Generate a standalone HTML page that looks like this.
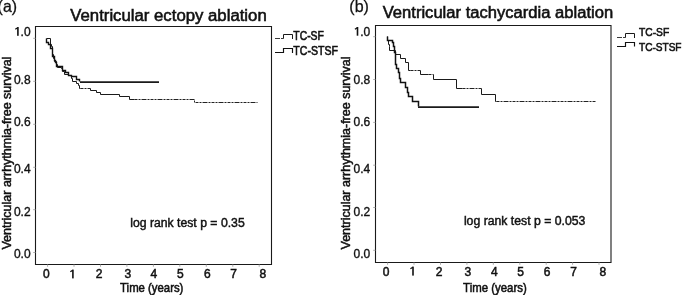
<!DOCTYPE html>
<html><head><meta charset="utf-8"><style>
html,body{margin:0;padding:0;background:#fff;width:682px;height:295px;overflow:hidden;}
svg{display:block;will-change:transform;}
</style></head><body>
<svg width="682" height="295" viewBox="0 0 682 295" font-family='"Liberation Sans", sans-serif' fill="#111">
<path d="M35.5,26.5 H271.5 V264.5 H35.5 Z" fill="none" stroke="#1a1a1a" stroke-width="1.1"/>
<line x1="33.2" y1="38.3" x2="35.6" y2="38.3" stroke="#999" stroke-width="0.8"/>
<line x1="33.2" y1="81.3" x2="35.6" y2="81.3" stroke="#999" stroke-width="0.8"/>
<line x1="33.2" y1="124.3" x2="35.6" y2="124.3" stroke="#999" stroke-width="0.8"/>
<line x1="33.2" y1="167.3" x2="35.6" y2="167.3" stroke="#999" stroke-width="0.8"/>
<line x1="33.2" y1="209.7" x2="35.6" y2="209.7" stroke="#999" stroke-width="0.8"/>
<line x1="33.2" y1="252.5" x2="35.6" y2="252.5" stroke="#999" stroke-width="0.8"/>
<line x1="47.6" y1="264.4" x2="47.6" y2="266.8" stroke="#999" stroke-width="0.8"/>
<line x1="74.0" y1="264.4" x2="74.0" y2="266.8" stroke="#999" stroke-width="0.8"/>
<line x1="100.5" y1="264.4" x2="100.5" y2="266.8" stroke="#999" stroke-width="0.8"/>
<line x1="126.9" y1="264.4" x2="126.9" y2="266.8" stroke="#999" stroke-width="0.8"/>
<line x1="153.4" y1="264.4" x2="153.4" y2="266.8" stroke="#999" stroke-width="0.8"/>
<line x1="179.8" y1="264.4" x2="179.8" y2="266.8" stroke="#999" stroke-width="0.8"/>
<line x1="206.3" y1="264.4" x2="206.3" y2="266.8" stroke="#999" stroke-width="0.8"/>
<line x1="232.8" y1="264.4" x2="232.8" y2="266.8" stroke="#999" stroke-width="0.8"/>
<line x1="259.2" y1="264.4" x2="259.2" y2="266.8" stroke="#999" stroke-width="0.8"/>
<rect x="17.10" y="27.00" width="1.6" height="8.80" fill="#111"/><line x1="17.70" y1="27.70" x2="15.30" y2="29.20" stroke="#111" stroke-width="1.3"/>
<text x="30.6" y="35.8" font-size="12" font-weight="400" text-anchor="end" stroke="#111" stroke-width="0.35" >.0</text>
<text x="30.6" y="83.5" font-size="12" font-weight="400" text-anchor="end" stroke="#111" stroke-width="0.35" >0.8</text>
<text x="30.6" y="126.0" font-size="12" font-weight="400" text-anchor="end" stroke="#111" stroke-width="0.35" >0.6</text>
<text x="30.6" y="173.2" font-size="12" font-weight="400" text-anchor="end" stroke="#111" stroke-width="0.35" >0.4</text>
<text x="30.6" y="215.5" font-size="12" font-weight="400" text-anchor="end" stroke="#111" stroke-width="0.35" >0.2</text>
<text x="30.6" y="257.5" font-size="12" font-weight="400" text-anchor="end" stroke="#111" stroke-width="0.35" >0.0</text>
<text x="46.40" y="278.2" font-size="12" font-weight="400" text-anchor="middle" stroke="#111" stroke-width="0.5" >0</text>
<rect x="72.10" y="269.60" width="1.6" height="8.80" fill="#111"/><line x1="72.70" y1="270.30" x2="70.30" y2="271.80" stroke="#111" stroke-width="1.3"/>
<text x="99.00" y="278.2" font-size="12" font-weight="400" text-anchor="middle" stroke="#111" stroke-width="0.5" >2</text>
<text x="127.80" y="278.2" font-size="12" font-weight="400" text-anchor="middle" stroke="#111" stroke-width="0.5" >3</text>
<text x="153.90" y="278.2" font-size="12" font-weight="400" text-anchor="middle" stroke="#111" stroke-width="0.5" >4</text>
<text x="180.40" y="278.2" font-size="12" font-weight="400" text-anchor="middle" stroke="#111" stroke-width="0.5" >5</text>
<text x="207.30" y="278.2" font-size="12" font-weight="400" text-anchor="middle" stroke="#111" stroke-width="0.5" >6</text>
<text x="233.60" y="278.2" font-size="12" font-weight="400" text-anchor="middle" stroke="#111" stroke-width="0.5" >7</text>
<text x="262.80" y="278.2" font-size="12" font-weight="400" text-anchor="middle" stroke="#111" stroke-width="0.5" >8</text>
<text x="-2.4" y="12.1" font-size="16.5" font-weight="400" text-anchor="start" textLength="19.4" lengthAdjust="spacingAndGlyphs" stroke="#111" stroke-width="0.3" >(a)</text>
<text x="70.3" y="21.1" font-size="16" font-weight="400" text-anchor="start" textLength="196.4" lengthAdjust="spacingAndGlyphs" stroke="#111" stroke-width="0.55" >Ventricular ectopy ablation</text>
<text x="120.1" y="292.4" font-size="12.3" font-weight="400" text-anchor="start" textLength="63.3" lengthAdjust="spacingAndGlyphs" stroke="#111" stroke-width="0.55" >Time (years)</text>
<text transform="translate(10.8,249.6) rotate(-90)" font-size="12.6" font-weight="400" stroke="#111" stroke-width="0.5" textLength="193" lengthAdjust="spacingAndGlyphs">Ventricular arrhythmia-free survival</text>
<text x="130.2" y="227.2" font-size="12.5" font-weight="400" text-anchor="start" textLength="114.5" lengthAdjust="spacingAndGlyphs" stroke="#111" stroke-width="0.45" >log rank test p = 0.35</text>
<text x="293.3" y="39.6" font-size="12" font-weight="400" text-anchor="start" textLength="30.6" lengthAdjust="spacingAndGlyphs" stroke="#111" stroke-width="0.6" >TC-SF</text>
<text x="293.3" y="55.4" font-size="12" font-weight="400" text-anchor="start" textLength="44.6" lengthAdjust="spacingAndGlyphs" stroke="#111" stroke-width="0.6" >TC-STSF</text>
<path d="M275,38.5 H283" fill="none" stroke="#3a3a3a" stroke-width="1" stroke-dasharray="5 1 2"/>
<path d="M283,38.5 H283.5 V34.5 H292.5 V39" fill="none" stroke="#1a1a1a" stroke-width="1"/>
<path d="M275,52.5 H283.5 V48.5 H292.5 V53" fill="none" stroke="#111" stroke-width="1.15"/>
<path d="M46.5,38.5 H50.5 V44.5 H51.5 V46.5 H52.5 V50.5 H52.5 V54.5 H53.5 V58.5 H54.5 V61.5 H56.5 V64.5 H57.5 V67.5 H61.5 V68.5 H62.5 V71.5 H64.5 V74.5 H68.5 V75.5 H71.5 V78.5 H72.5 V81.5 H76.5 V83.5 H78.5 V85.5 H79.5 V88.5 H80.5" fill="none" stroke="#1a1a1a" stroke-width="1.0"/>
<path d="M90.5,88.5 V90.5 H96.5 V92.5 H100.5 V94.5 H119.5 V96.5 H129.5 V99.5 H134.5" fill="none" stroke="#1a1a1a" stroke-width="1.0"/>
<path d="M80.5,88.5 H90.5 M134.5,99.5 H194.5 V102.5 H257.5" fill="none" stroke="#222" stroke-width="1.0" stroke-dasharray="3 1 2 1 5 1 2 1"/>
<path d="M46.5,38.5 V42.5 H48.5 V44.5 H50.5 V46.5 H50.5 V48.5 H52.5 V52.5 H52.5 V56.5 H54.5 V60.5 H55.5 V62.5 H56.5 V66.5 H62.5 V70.5 H65.5 V72.5 H68.5 V75.5 H71.5 V76.5 H76.5 V79.5 H79.5 V81.5" fill="none" stroke="#111" stroke-width="1.4"/>
<path d="M80.0,82.0 H159.0" fill="none" stroke="#1a1a1a" stroke-width="1.75"/>
<path d="M375.5,25.5 H611 V262.5 H375.5 Z" fill="none" stroke="#1a1a1a" stroke-width="1.1"/>
<line x1="373.2" y1="36.7" x2="375.5" y2="36.7" stroke="#999" stroke-width="0.8"/>
<line x1="373.2" y1="79.5" x2="375.5" y2="79.5" stroke="#999" stroke-width="0.8"/>
<line x1="373.2" y1="122.4" x2="375.5" y2="122.4" stroke="#999" stroke-width="0.8"/>
<line x1="373.2" y1="165.2" x2="375.5" y2="165.2" stroke="#999" stroke-width="0.8"/>
<line x1="373.2" y1="207.5" x2="375.5" y2="207.5" stroke="#999" stroke-width="0.8"/>
<line x1="373.2" y1="250.3" x2="375.5" y2="250.3" stroke="#999" stroke-width="0.8"/>
<line x1="387.6" y1="262.4" x2="387.6" y2="264.8" stroke="#999" stroke-width="0.8"/>
<line x1="414.0" y1="262.4" x2="414.0" y2="264.8" stroke="#999" stroke-width="0.8"/>
<line x1="440.5" y1="262.4" x2="440.5" y2="264.8" stroke="#999" stroke-width="0.8"/>
<line x1="466.9" y1="262.4" x2="466.9" y2="264.8" stroke="#999" stroke-width="0.8"/>
<line x1="493.3" y1="262.4" x2="493.3" y2="264.8" stroke="#999" stroke-width="0.8"/>
<line x1="519.8" y1="262.4" x2="519.8" y2="264.8" stroke="#999" stroke-width="0.8"/>
<line x1="546.2" y1="262.4" x2="546.2" y2="264.8" stroke="#999" stroke-width="0.8"/>
<line x1="572.6" y1="262.4" x2="572.6" y2="264.8" stroke="#999" stroke-width="0.8"/>
<line x1="599.0" y1="262.4" x2="599.0" y2="264.8" stroke="#999" stroke-width="0.8"/>
<rect x="356.70" y="27.00" width="1.6" height="8.70" fill="#111"/><line x1="357.30" y1="27.70" x2="354.90" y2="29.20" stroke="#111" stroke-width="1.3"/>
<text x="370.3" y="35.8" font-size="12" font-weight="400" text-anchor="end" stroke="#111" stroke-width="0.35" >.0</text>
<text x="370.3" y="83.5" font-size="12" font-weight="400" text-anchor="end" stroke="#111" stroke-width="0.35" >0.8</text>
<text x="370.3" y="126.0" font-size="12" font-weight="400" text-anchor="end" stroke="#111" stroke-width="0.35" >0.6</text>
<text x="370.3" y="173.2" font-size="12" font-weight="400" text-anchor="end" stroke="#111" stroke-width="0.35" >0.4</text>
<text x="370.3" y="215.5" font-size="12" font-weight="400" text-anchor="end" stroke="#111" stroke-width="0.35" >0.2</text>
<text x="370.3" y="257.5" font-size="12" font-weight="400" text-anchor="end" stroke="#111" stroke-width="0.35" >0.0</text>
<text x="386.20" y="275.5" font-size="12" font-weight="400" text-anchor="middle" stroke="#111" stroke-width="0.5" >0</text>
<rect x="412.20" y="266.60" width="1.6" height="9.00" fill="#111"/><line x1="412.80" y1="267.30" x2="410.40" y2="268.80" stroke="#111" stroke-width="1.3"/>
<text x="439.00" y="275.5" font-size="12" font-weight="400" text-anchor="middle" stroke="#111" stroke-width="0.5" >2</text>
<text x="467.90" y="275.5" font-size="12" font-weight="400" text-anchor="middle" stroke="#111" stroke-width="0.5" >3</text>
<text x="494.30" y="275.5" font-size="12" font-weight="400" text-anchor="middle" stroke="#111" stroke-width="0.5" >4</text>
<text x="520.50" y="275.5" font-size="12" font-weight="400" text-anchor="middle" stroke="#111" stroke-width="0.5" >5</text>
<text x="547.20" y="275.5" font-size="12" font-weight="400" text-anchor="middle" stroke="#111" stroke-width="0.5" >6</text>
<text x="573.70" y="275.5" font-size="12" font-weight="400" text-anchor="middle" stroke="#111" stroke-width="0.5" >7</text>
<text x="602.90" y="275.5" font-size="12" font-weight="400" text-anchor="middle" stroke="#111" stroke-width="0.5" >8</text>
<text x="349.3" y="12.1" font-size="17" font-weight="400" text-anchor="start" textLength="19.6" lengthAdjust="spacingAndGlyphs" stroke="#111" stroke-width="0.25" >(b)</text>
<text x="382.7" y="17.6" font-size="16" font-weight="400" text-anchor="start" textLength="230.5" lengthAdjust="spacingAndGlyphs" stroke="#111" stroke-width="0.55" >Ventricular tachycardia ablation</text>
<text x="463.1" y="292.4" font-size="12.3" font-weight="400" text-anchor="start" textLength="63.6" lengthAdjust="spacingAndGlyphs" stroke="#111" stroke-width="0.55" >Time (years)</text>
<text transform="translate(350,249.5) rotate(-90)" font-size="12.6" font-weight="400" stroke="#111" stroke-width="0.5" textLength="193" lengthAdjust="spacingAndGlyphs">Ventricular arrhythmia-free survival</text>
<text x="463.9" y="225.0" font-size="12.5" font-weight="400" text-anchor="start" textLength="121.5" lengthAdjust="spacingAndGlyphs" stroke="#111" stroke-width="0.45" >log rank test p = 0.053</text>
<text x="639" y="35.5" font-size="11.6" font-weight="400" text-anchor="start" textLength="30.2" lengthAdjust="spacingAndGlyphs" stroke="#111" stroke-width="0.6" >TC-SF</text>
<text x="639" y="51.2" font-size="11.6" font-weight="400" text-anchor="start" textLength="42.5" lengthAdjust="spacingAndGlyphs" stroke="#111" stroke-width="0.6" >TC-STSF</text>
<path d="M617,37.5 H625" fill="none" stroke="#3a3a3a" stroke-width="1" stroke-dasharray="5 1 2"/>
<path d="M625,37.5 H625.5 V33.5 H634.5 V38" fill="none" stroke="#1a1a1a" stroke-width="1"/>
<path d="M617,46.5 H625.5 V42.5 H634.5 V46.5" fill="none" stroke="#111" stroke-width="1.15"/>
<path d="M387.5,36.5 V40.5 H388.5 V44.5 H389.5 V46.5 H389.5 V50.5 H395.5 V54.5 H400.5 V58.5 H405.5 V62.5 H408.5 V70.5 H410.5" fill="none" stroke="#1a1a1a" stroke-width="1.0"/>
<path d="M420.5,70.5 V74.5 H428.5" fill="none" stroke="#1a1a1a" stroke-width="1.0"/>
<path d="M433.5,74.5 V79.5 H456.5 V88.5 H462.5" fill="none" stroke="#1a1a1a" stroke-width="1.0"/>
<path d="M481.5,88.5 V94.5 H495.5 V101.5 H496.5" fill="none" stroke="#1a1a1a" stroke-width="1.0"/>
<path d="M410.5,70.5 H420.5 M428.5,74.5 H433.5 M462.5,88.5 H481.5 M496.5,101.5 H596.5" fill="none" stroke="#222" stroke-width="1.0" stroke-dasharray="3 1 2 1 5 1 2 1"/>
<path d="M387.5,36.5 V40.5 H392.5 V42.5 H393.5 V46.5 H394.5 V48.5 H394.5 V52.5 H395.5 V64.5 H396.5 V68.5 H398.5 V72.5 H399.5 V78.5 H400.5 V82.5 H405.5 V87.5 H407.5 V92.5 H408.5 V96.5 H412.5 V101.5 H418.5 V106.5" fill="none" stroke="#111" stroke-width="1.5"/>
<path d="M418.0,107.0 H479.0" fill="none" stroke="#1a1a1a" stroke-width="1.75"/>
</svg>
</body></html>
